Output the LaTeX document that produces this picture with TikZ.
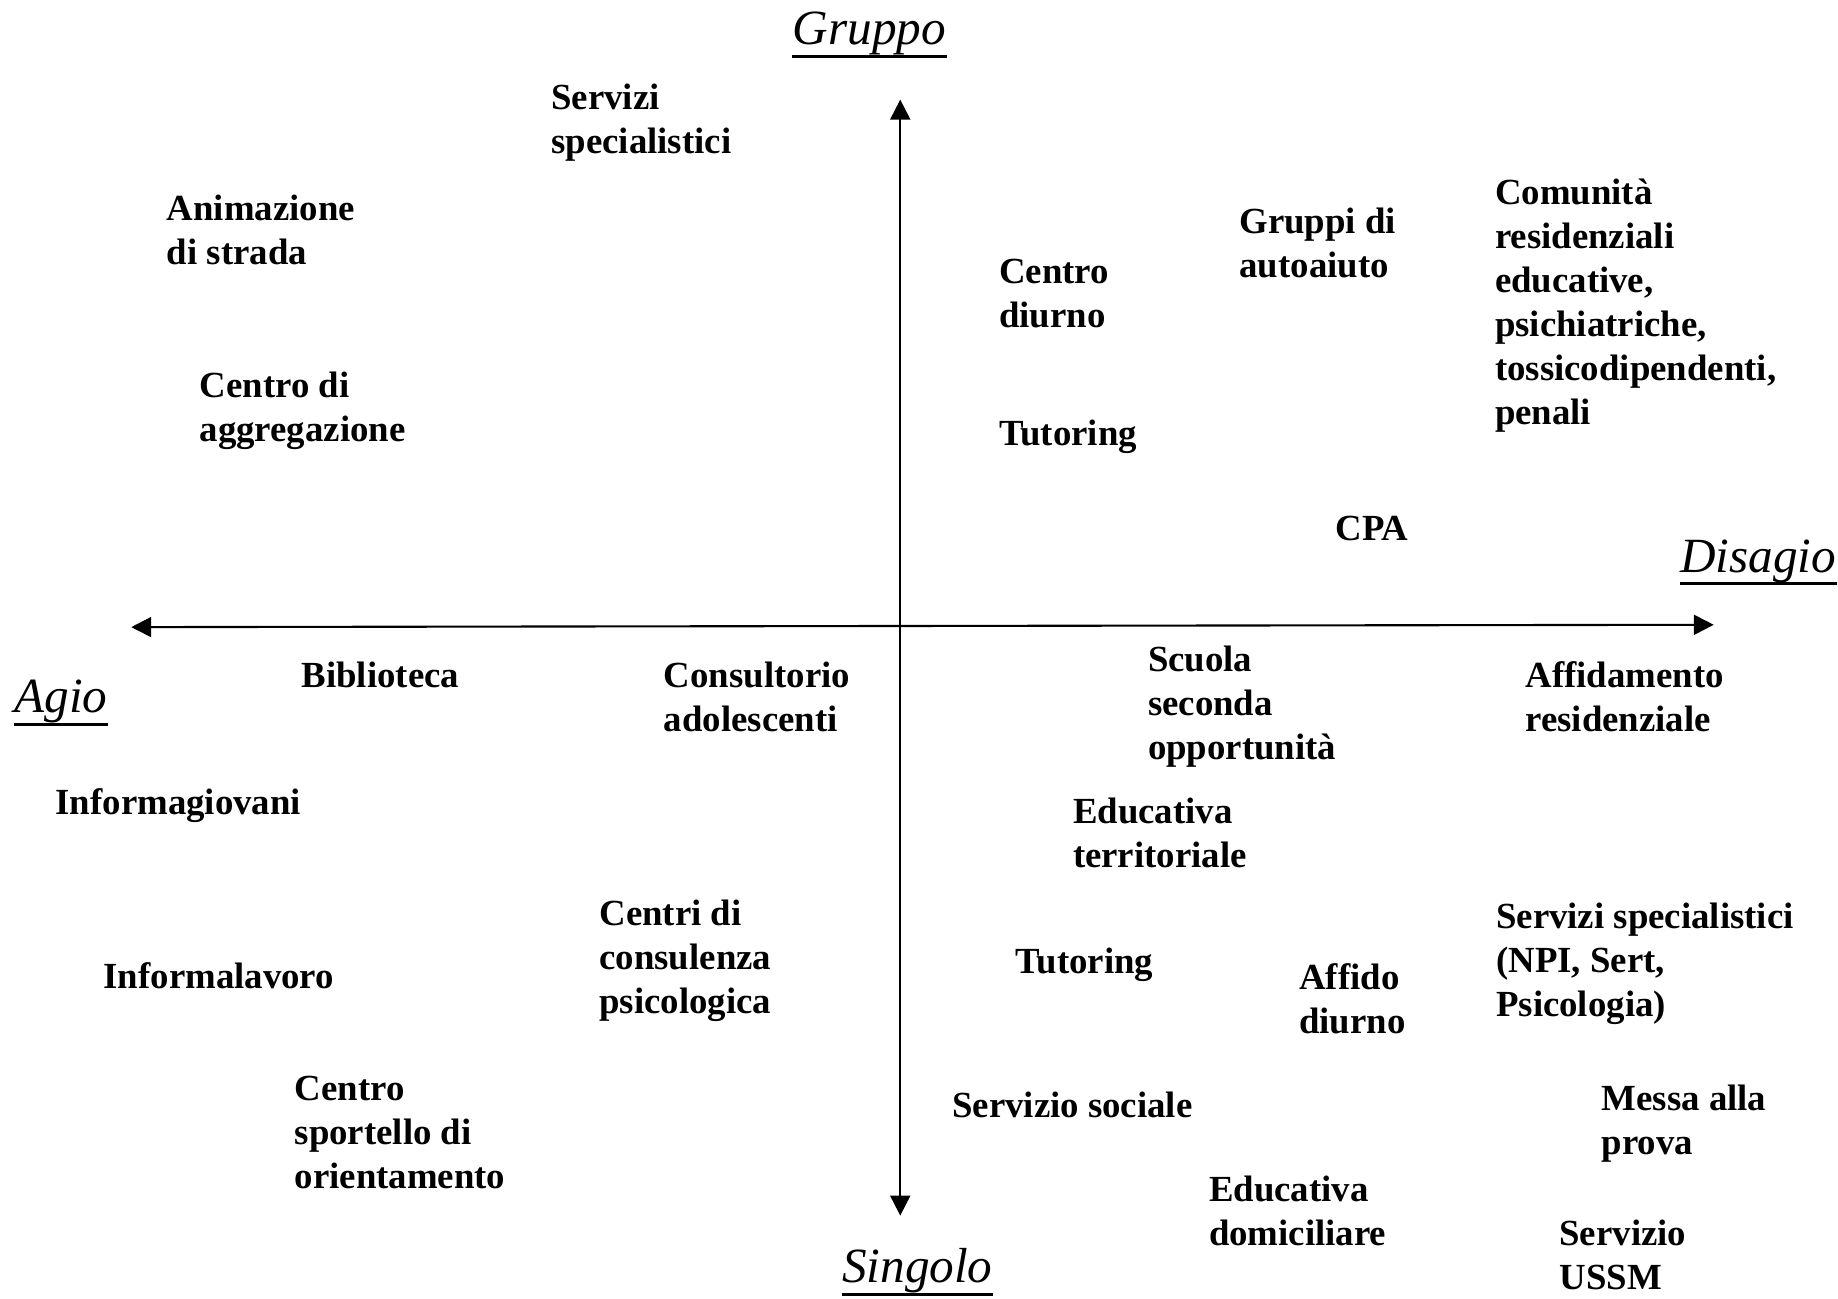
\documentclass[tikz,border=0pt]{standalone}
\usepackage{fontspec}
\setmainfont{Liberation Serif}
\usetikzlibrary{arrows.meta}
\begin{document}
\begin{tikzpicture}[x=0.5pt,y=-0.5pt,
  item/.style={anchor=north west,inner sep=0pt,align=left,font=\bfseries\fontsize{15.7}{18.75}\selectfont},
  axlabel/.style={anchor=base west,inner sep=0pt,font=\itshape\fontsize{21}{24}\selectfont},
  axisline/.style={line width=0.9pt,{Triangle[length=8.5pt,width=8.5pt]}-{Triangle[length=8.5pt,width=8.5pt]}},
  uline/.style={line width=1.3pt}]
\useasboundingbox (0,0) rectangle (1568,1108);
% axes
\coordinate (L) at (112,535);
\coordinate (R) at (1462,533);
\coordinate (T) at (768,85);
\coordinate (B) at (768,1037);
\draw[axisline] (L) -- (R);
\draw[axisline] (T) -- (B);
% axis labels
\node[axlabel] (gruppo) at (676,38) {Gruppo};
\node[axlabel] (disagio) at (1433,488) {Disagio};
\node[axlabel] (agio) at (12,608) {Agio};
\node[axlabel] (singolo) at (718,1094) {Singolo};
\foreach \n in {gruppo,disagio,agio,singolo}
  \draw[uline] ([yshift=-5pt]\n.base west) -- ([yshift=-5pt]\n.base east);
% items
\node[item] (i1) at (470,71) {Servizi\\specialistici};
\node[item] (i2) at (142,166) {Animazione\\di strada};
\node[item] (i3) at (170,317) {Centro di\\aggregazione};
\node[item] (i4) at (852,221) {Centro\\diurno};
\node[item] (i5) at (1057,177) {Gruppi di\\autoaiuto};
\node[item] (i6) at (1275,152) {Comunità\\residenziali\\educative,\\psichiatriche,\\tossicodipendenti,\\penali};
\node[item] (i7) at (852,358) {Tutoring};
\node[item] (i8) at (1139,440) {CPA};
\node[item] (i9) at (257,564) {Biblioteca};
\node[item] (i10) at (566,564) {Consultorio\\adolescenti};
\node[item] (i11) at (979,551) {Scuola\\seconda\\opportunità};
\node[item] (i12) at (1301,564) {Affidamento\\residenziale};
\node[item] (i13) at (47,672) {Informagiovani};
\node[item] (i14) at (915,680) {Educativa\\territoriale};
\node[item] (i15) at (511,767) {Centri di\\consulenza\\psicologica};
\node[item] (i16) at (1276,770) {Servizi specialistici\\(NPI, Sert,\\Psicologia)};
\node[item] (i17) at (88,821) {Informalavoro};
\node[item] (i18) at (866,808) {Tutoring};
\node[item] (i19) at (1108,822) {Affido\\diurno};
\node[item] (i20) at (251,918) {Centro\\sportello di\\orientamento};
\node[item] (i21) at (812,931) {Servizio sociale};
\node[item] (i22) at (1366,925) {Messa alla\\prova};
\node[item] (i23) at (1031,1003) {Educativa\\domiciliare};
\node[item] (i24) at (1330,1040) {Servizio\\USSM};
\end{tikzpicture}
\end{document}
